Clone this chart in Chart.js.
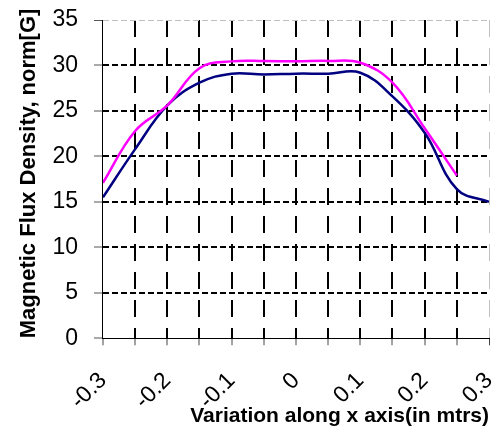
<!DOCTYPE html>
<html>
<head>
<meta charset="utf-8">
<script src="https://cdn.jsdelivr.net/npm/chart.js@4/dist/chart.umd.min.js"></script>
<style>
  html, body { margin: 0; padding: 0; background: #fff; }
  #wrap { width: 493px; height: 431px; }
</style>
</head>
<body>
<div id="wrap"><canvas id="chart" width="493" height="431"></canvas></div>
<script>
// positions along x (m)
const xPositions = [-0.3, -0.25, -0.2, -0.15, -0.1, -0.05, 0, 0.05, 0.1, 0.15, 0.2, 0.25, 0.3];
// navy curve
const navySeries = [15.5, 20.8, 25.6, 28.1, 29.1, 29.0, 29.1, 29.1, 29.2, 26.6, 22.6, 16.4, 15.0];
// magenta curve (stops at 0.25)
const magentaSeries = [17.1, 22.8, 25.6, 29.7, 30.45, 30.5, 30.45, 30.5, 30.3, 28.1, 23.1, 17.9];
const xTickLabels = ['-0.3', '-0.2', '-0.1', '0', '0.1', '0.2', '0.3'];
const yTicks = [0, 5, 10, 15, 20, 25, 30, 35];

const toPoints = (vals) => vals.map((v, i) => ({ x: xPositions[i], y: v }));

const fontFamily = "'Liberation Sans', Arial, sans-serif";

// keep the plot area where the original has it, ignore label overhang
const noOverhang = (axis) => {
  axis.paddingLeft = 0;
  axis.paddingRight = 0;
  axis.paddingTop = 0;
  axis.paddingBottom = 0;
};

new Chart(document.getElementById('chart').getContext('2d'), {
  type: 'line',
  data: {
    datasets: [
      {
        label: 'magenta',
        data: toPoints(magentaSeries),
        borderColor: '#ff00ff',
        borderWidth: 2.5,
        pointRadius: 0,
        tension: 0.4,
        fill: false,
      },
      {
        label: 'navy',
        data: toPoints(navySeries),
        borderColor: '#000080',
        borderWidth: 2.5,
        pointRadius: 0,
        tension: 0.4,
        fill: false,
      },
    ],
  },
  options: {
    responsive: false,
    animation: false,
    layout: {
      padding: { left: 16, top: 20, right: 4, bottom: 2 },
    },
    plugins: {
      legend: { display: false },
      tooltip: { enabled: false },
    },
    scales: {
      x: {
        type: 'linear',
        min: -0.3,
        max: 0.3,
        afterFit: noOverhang,
        border: {
          display: true,
          color: '#000',
          width: 1,
          dash: [17, 11],
        },
        grid: {
          lineWidth: (ctx) => (ctx.index === 12 ? 1 : 2),
          color: (ctx) => {
            if (ctx.index === 0) return 'rgba(0,0,0,0)';
            if (ctx.index === 12) return '#c0c0c0';
            return '#000';
          },
          drawTicks: true,
          tickLength: 7,
          tickWidth: 1,
          tickColor: '#444',
        },
        ticks: {
          stepSize: 0.05,
          autoSkip: false,
          minRotation: 45,
          maxRotation: 45,
          padding: 22,
          color: '#000',
          font: { family: fontFamily, size: 23 },
          callback: (value) => {
            const r = Math.round(value * 20);
            if (r % 2 !== 0) return '';
            return xTickLabels[(r + 6) / 2];
          },
        },
        title: {
          display: true,
          text: 'Variation along x axis(in mtrs)',
          align: 'end',
          color: '#000',
          font: { family: fontFamily, size: 21, weight: 'bold' },
          padding: { top: -33, bottom: 0 },
        },
      },
      y: {
        min: 0,
        max: 35,
        afterFit: noOverhang,
        border: {
          display: true,
          color: '#000',
          width: 1,
          dash: [6, 3],
        },
        grid: {
          lineWidth: (ctx) => (ctx.tick && ctx.tick.value === 35 ? 1 : 2),
          color: (ctx) => {
            if (!ctx.tick) return '#000';
            if (ctx.tick.value === 0) return 'rgba(0,0,0,0)';
            if (ctx.tick.value === 35) return '#c0c0c0';
            return '#000';
          },
          drawTicks: true,
          tickLength: 9,
          tickWidth: 1,
          tickColor: '#555',
        },
        afterBuildTicks: (axis) => {
          axis.ticks = yTicks.map((v) => ({ value: v }));
        },
        ticks: {
          padding: 16,
          color: '#000',
          font: { family: fontFamily, size: 23 },
        },
        title: {
          display: true,
          text: 'Magnetic Flux Density, norm[G]',
          align: 'start',
          color: '#000',
          font: { family: fontFamily, size: 22, weight: 'bold' },
          padding: { top: 0, bottom: -6 },
        },
      },
    },
  },
});
</script>
</body>
</html>
